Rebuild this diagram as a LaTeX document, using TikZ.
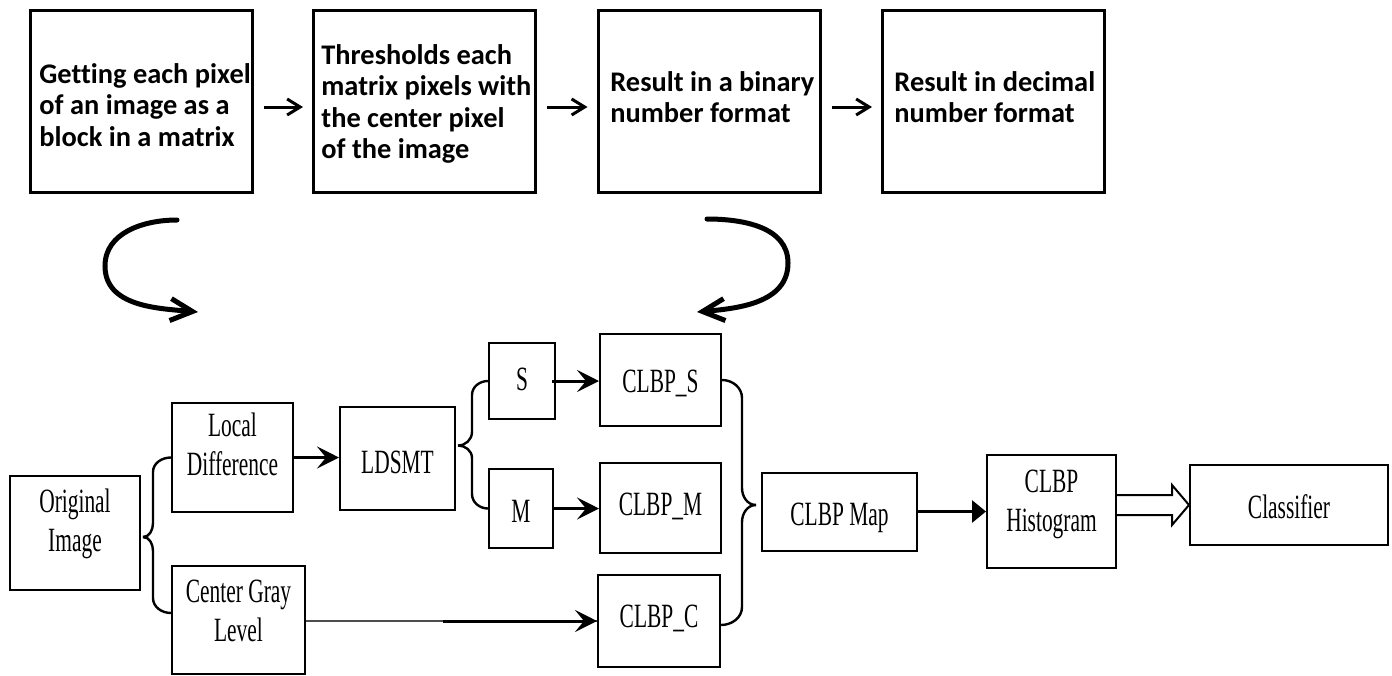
\documentclass[tikz,border=0pt]{standalone}
\usepackage{fontspec}
\setmainfont{Carlito}[Ligatures=NoCommon]
\newfontfamily\narrowserif[FakeStretch=0.63]{Liberation Serif}
\usetikzlibrary{arrows.meta,calc}

\tikzset{
  topbox/.style={draw, line width=1.5pt, minimum width=111pt, minimum height=91pt, inner sep=0pt},
  toptext/.style={inner sep=0pt, anchor=west, align=left,
    font=\fontsize{14.2}{15.7}\selectfont\bfseries},
  bbox/.style={draw, line width=1pt, inner sep=0pt},
  btext/.style={inner sep=0pt, align=center, font=\narrowserif\fontsize{17}{19.5}\selectfont},
  toparrow/.style={line width=1.5pt, -{Straight Barb[length=6.5pt,width=8pt]},
    shorten <=5pt, shorten >=4.5pt},
  loop arrow/.style={line width=2.5pt, line cap=round, -{Straight Barb[length=11pt,width=11pt]}},
  conn/.style={line width=1.5pt, -{Stealth[length=11pt,width=11pt,inset=4.5pt]}},
  brace/.style={line width=1.2pt},
}

\begin{document}
\begin{tikzpicture}[x=0.5pt,y=-0.5pt]
\useasboundingbox (0,0) rectangle (1392,675);

% ---------------- upper row: LBP steps ----------------
\node[topbox] (t1) at (141,101)   {};
\node[topbox] (t2) at (424.5,101) {};
\node[topbox] (t3) at (709,101)   {};
\node[topbox] (t4) at (993.5,101) {};

\node[toptext] (t1T) at (39,105)  {Getting each pixel\\of an image as a\\block in a matrix};
\node[toptext] (t2T) at (321,104) {Thresholds each\\matrix pixels with\\the center pixel\\of the image};
\node[toptext] (t3T) at (610,97)  {Result in a binary\\number format};
\node[toptext] (t4T) at (894,97)  {Result in decimal\\number format};

\draw[toparrow] ([yshift=-3pt]t1.east) -- ([yshift=-3pt]t2.west);
\draw[toparrow] ([yshift=-3pt]t2.east) -- ([yshift=-3pt]t3.west);
\draw[toparrow] ([yshift=-3pt]t3.east) -- ([yshift=-3pt]t4.west);

% curved arrows leading into the lower chart
\coordinate (la) at (177,220);
\coordinate (lb) at (198,312);
\coordinate (ra) at (707,219);
\coordinate (rb) at (697,312);
\draw[loop arrow] (la) to[out=180,in=90] (105,266) to[out=-90,in=175] (lb);
\draw[loop arrow] (ra) to[out=0,in=90] (788,263) to[out=-90,in=5] (rb);

% ---------------- lower chart: CLBP pipeline ----------------
\node[bbox, minimum width=65pt,   minimum height=57pt]   (orig)  at (75,533)     {};
\node[bbox, minimum width=60.5pt, minimum height=54.5pt] (ld)    at (232.5,457.5) {};
\node[bbox, minimum width=66.5pt, minimum height=54pt]   (cg)    at (238.5,620)  {};
\node[bbox, minimum width=57.5pt, minimum height=51.5pt] (ldsmt) at (397.5,458.5) {};
\node[bbox, minimum width=33pt,   minimum height=38pt]   (S)     at (522,381)    {};
\node[bbox, minimum width=32pt,   minimum height=39.5pt] (M)     at (521,508.5)  {};
\node[bbox, minimum width=60.5pt, minimum height=46pt]   (cs)    at (660.5,380)  {};
\node[bbox, minimum width=60.5pt, minimum height=45pt]   (cm)    at (660.5,508)  {};
\node[bbox, minimum width=61pt,   minimum height=46pt]   (cc)    at (659,621)    {};
\node[bbox, minimum width=77.5pt, minimum height=39pt]   (map)   at (839.5,512)  {};
\node[bbox, minimum width=64.5pt, minimum height=56.5pt] (hist)  at (1051.5,511.5) {};
\node[bbox, minimum width=99pt,   minimum height=40pt]   (cls)   at (1289,505)   {};

\node[btext] (origT)  at (75,524)     {Original\\Image};
\node[btext] (ldT)    at (232.5,444)  {Local\\Difference};
\node[btext] (cgT)    at (238.5,611)  {Center Gray\\Level};
\node[btext] (ldsmtT) at (397.5,462)  {LDSMT};
\node[btext] (ST)     at (522,379)    {S};
\node[btext] (MT)     at (521,511)    {M};
\node[btext] (csT)    at (660.5,383)  {CLBP\_S};
\node[btext] (cmT)    at (660.5,506)  {CLBP\_M};
\node[btext] (ccT)    at (659,618)    {CLBP\_C};
\node[btext] (mapT)   at (839.5,518)  {CLBP Map};
\node[btext] (histT)  at (1051.5,504) {CLBP\\Histogram};
\node[btext] (clsT)   at (1289,507)   {Classifier};

% brace: original image splits into two branches
\coordinate (o1) at ($(orig.east)+(2,4)$);
\draw[brace] (o1) to[out=0,in=-90] (153,523) -- (153,472) to[out=90,in=180] (ld.west);
\draw[brace] (o1) to[out=0,in=90] (153,551) -- (153,598) to[out=-90,in=180] ($(cg.west)+(0,-7)$);

\draw[conn] (ld.east) -- (ld.east -| ldsmt.west);

% brace: LDSMT splits into sign and magnitude
\coordinate (o2) at ($(ldsmt.east)+(2,-13)$);
\draw[brace] (o2) to[out=0,in=-90] (472,432) -- (472,395) to[out=90,in=180] (S.west);
\draw[brace] (o2) to[out=0,in=90] (472,458) -- (472,494) to[out=-90,in=180] (M.west);

\draw[conn] ([xshift=-2pt]S.east) -- (S.east -| cs.west);
\draw[conn] (M.east) -- (M.east -| cm.west);

% center gray level feeds CLBP_C
\draw[line width=1pt, draw=black!70] (cg.east |- cc.west) -- (cc.west);
\draw[conn] ($(cg.east |- cc.west)!0.47!(cc.west)$) -- (cc.west);

% brace: the three codes join into the CLBP map
\coordinate (o3) at ($(map.west)+(-5,-7)$);
\draw[brace] (cs.east) to[out=0,in=90] (742,398) -- (742,488) to[out=-90,in=180] (o3);
\draw[brace] ($(cc.east)+(0,4)$) to[out=0,in=-90] (742,607) -- (742,522) to[out=90,in=180] (o3);

\draw[line width=1.5pt, -{Triangle[length=7pt,width=11pt]}] (map.east |- hist.west) -- (hist.west);

% hollow block arrow to the classifier
\draw[line width=1pt, line join=miter]
  ($(hist.east |- cls.west)+(0,-10)$) -- ($(cls.west)+(-17,-10)$) -- ($(cls.west)+(-17,-20)$)
  -- (cls.west) -- ($(cls.west)+(-17,20)$) -- ($(cls.west)+(-17,10)$)
  -- ($(hist.east |- cls.west)+(0,10)$);
\end{tikzpicture}
\end{document}
